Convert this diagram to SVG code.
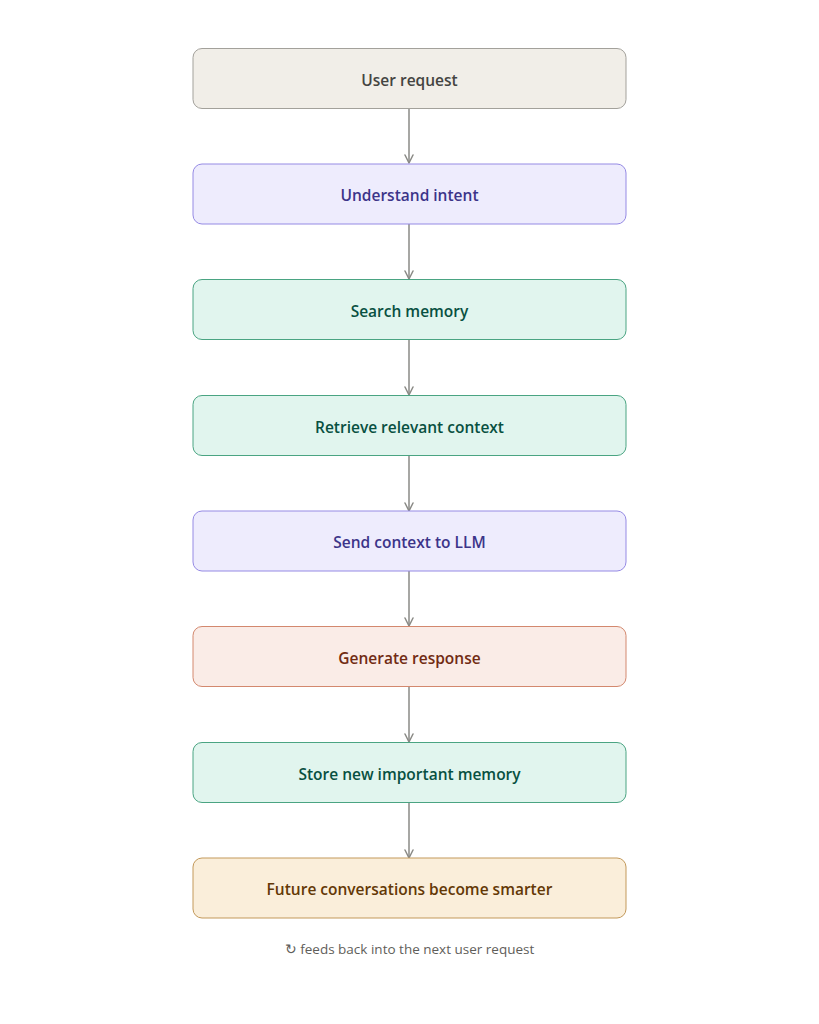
<svg xmlns="http://www.w3.org/2000/svg" width="819" height="1024" viewBox="0 0 819 1024">
<defs>
<marker id="arr" viewBox="0 0 10 10" refX="9" refY="5" markerWidth="10" markerHeight="10" markerUnits="userSpaceOnUse" orient="auto">
<path d="M1,1 L9,5 L1,9" fill="none" stroke="#8a8a86" stroke-width="1.5" stroke-linecap="round" stroke-linejoin="round"/>
</marker>
<style>
.box{stroke-width:1}
.lbl{font-family:"Open Sans","Noto Sans",sans-serif;font-size:15.5px;font-weight:600;text-anchor:middle;dominant-baseline:central}
.gray rect{fill:#f1eee8;stroke:#a3a19b}.gray text{fill:#444441}
.purple rect{fill:#eeecfd;stroke:#958ae4}.purple text{fill:#3c3489}
.green rect{fill:#e1f5ee;stroke:#4aa482}.green text{fill:#085041}
.coral rect{fill:#faece7;stroke:#d3886e}.coral text{fill:#712b13}
.amber rect{fill:#faeeda;stroke:#c3995a}.amber text{fill:#633806}
.conn line{stroke:#8a8a86;stroke-width:1.5;fill:none}
.cap{font-family:"Open Sans","Noto Sans",sans-serif;font-size:13.5px;fill:#5f5e5a;text-anchor:middle;dominant-baseline:central}
</style>
</defs>
<rect width="819" height="1024" fill="#ffffff"/>
<g id="connectors" class="conn">
<line x1="409" y1="108" x2="409" y2="163" marker-end="url(#arr)"/>
<line x1="409" y1="224" x2="409" y2="279" marker-end="url(#arr)"/>
<line x1="409" y1="339" x2="409" y2="395" marker-end="url(#arr)"/>
<line x1="409" y1="455" x2="409" y2="511" marker-end="url(#arr)"/>
<line x1="409" y1="571" x2="409" y2="626" marker-end="url(#arr)"/>
<line x1="409" y1="686" x2="409" y2="742" marker-end="url(#arr)"/>
<line x1="409" y1="802" x2="409" y2="858" marker-end="url(#arr)"/>
</g>
<g id="n1" class="gray"><rect class="box" x="193" y="48.5" width="433" height="60" rx="9"/><text class="lbl" x="409.5" y="79.5">User request</text></g>
<g id="n2" class="purple"><rect class="box" x="193" y="164" width="433" height="60" rx="9"/><text class="lbl" x="409.5" y="195">Understand intent</text></g>
<g id="n3" class="green"><rect class="box" x="193" y="279.5" width="433" height="60" rx="9"/><text class="lbl" x="409.5" y="310.5">Search memory</text></g>
<g id="n4" class="green"><rect class="box" x="193" y="395.5" width="433" height="60" rx="9"/><text class="lbl" x="409.5" y="426.5">Retrieve relevant context</text></g>
<g id="n5" class="purple"><rect class="box" x="193" y="511" width="433" height="60" rx="9"/><text class="lbl" x="409.5" y="542">Send context to LLM</text></g>
<g id="n6" class="coral"><rect class="box" x="193" y="626.5" width="433" height="60" rx="9"/><text class="lbl" x="409.5" y="657.5">Generate response</text></g>
<g id="n7" class="green"><rect class="box" x="193" y="742.5" width="433" height="60" rx="9"/><text class="lbl" x="409.5" y="773.5">Store new important memory</text></g>
<g id="n8" class="amber"><rect class="box" x="193" y="858" width="433" height="60" rx="9"/><text class="lbl" x="409.5" y="889">Future conversations become smarter</text></g>
<text class="cap" x="409.5" y="949">↻ feeds back into the next user request</text>
</svg>
